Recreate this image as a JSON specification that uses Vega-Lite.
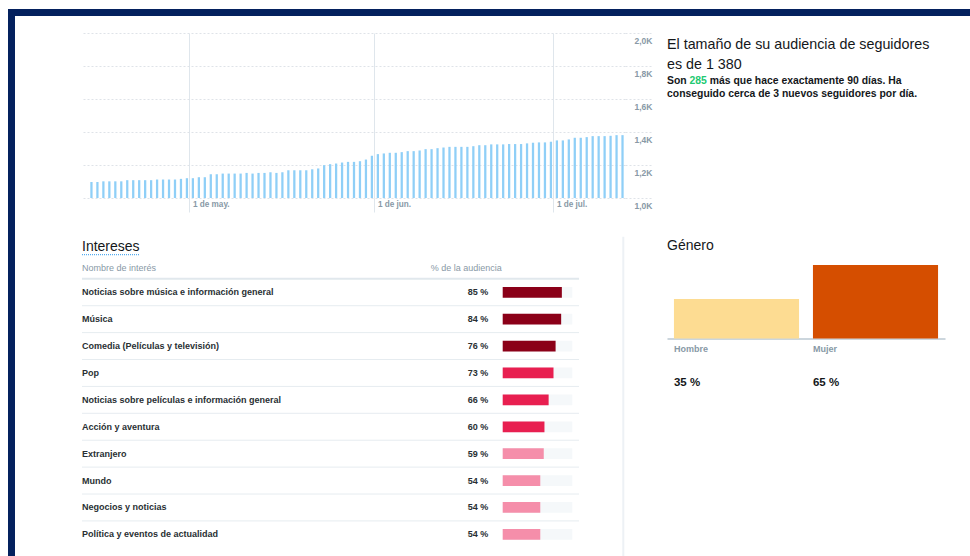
{
  "$schema": "https://vega.github.io/schema/vega-lite/v6.json",
  "background": "#ffffff",
  "padding": {"left": 8, "top": 9, "right": 0, "bottom": 0},
  "config": {
    "font": "Liberation Sans",
    "view": {"stroke": null},
    "axis": {"labelFont": "Liberation Sans"},
    "title": {"font": "Liberation Sans"},
    "text": {"font": "Liberation Sans"}
  },
  "bounds": "flush",
  "spacing": 0,
  "hconcat": [
    {
      "width": 7, "height": 547,
      "view": {"fill": "#04215e", "stroke": null},
      "data": {"values": []},
      "mark": "rect",
      "encoding": {}
    },
    {
      "bounds": "flush",
      "spacing": 17,
      "vconcat": [
        {
          "width": 955, "height": 7,
          "view": {"fill": "#04215e", "stroke": null},
          "data": {"values": []},
          "mark": "rect",
          "encoding": {}
        },
        {
          "bounds": "full",
          "spacing": 0,
          "hconcat": [
            {"width": 66, "height": 1, "data": {"values": []}, "mark": "rect", "encoding": {}},
            {
              "bounds": "flush",
              "spacing": 38.7,
              "vconcat": [
                {
                  "width": 543, "height": 165,
                  "data": {"values": [
                    {"date": "2019-04-14", "followers": 1097}, {"date": "2019-04-15", "followers": 1097},
                    {"date": "2019-04-16", "followers": 1101}, {"date": "2019-04-17", "followers": 1101},
                    {"date": "2019-04-18", "followers": 1101}, {"date": "2019-04-19", "followers": 1101},
                    {"date": "2019-04-20", "followers": 1108}, {"date": "2019-04-21", "followers": 1108},
                    {"date": "2019-04-22", "followers": 1108}, {"date": "2019-04-23", "followers": 1108},
                    {"date": "2019-04-24", "followers": 1108}, {"date": "2019-04-25", "followers": 1112},
                    {"date": "2019-04-26", "followers": 1112}, {"date": "2019-04-27", "followers": 1112},
                    {"date": "2019-04-28", "followers": 1112}, {"date": "2019-04-29", "followers": 1116},
                    {"date": "2019-04-30", "followers": 1120},
                    {"date": "2019-05-01", "followers": 1120}, {"date": "2019-05-02", "followers": 1126},
                    {"date": "2019-05-03", "followers": 1126}, {"date": "2019-05-04", "followers": 1144},
                    {"date": "2019-05-05", "followers": 1144}, {"date": "2019-05-06", "followers": 1148},
                    {"date": "2019-05-07", "followers": 1148}, {"date": "2019-05-08", "followers": 1148},
                    {"date": "2019-05-09", "followers": 1148}, {"date": "2019-05-10", "followers": 1152},
                    {"date": "2019-05-11", "followers": 1148}, {"date": "2019-05-12", "followers": 1152},
                    {"date": "2019-05-13", "followers": 1152}, {"date": "2019-05-14", "followers": 1156},
                    {"date": "2019-05-15", "followers": 1152}, {"date": "2019-05-16", "followers": 1156},
                    {"date": "2019-05-17", "followers": 1168}, {"date": "2019-05-18", "followers": 1168},
                    {"date": "2019-05-19", "followers": 1168}, {"date": "2019-05-20", "followers": 1168},
                    {"date": "2019-05-21", "followers": 1174}, {"date": "2019-05-22", "followers": 1179},
                    {"date": "2019-05-23", "followers": 1199}, {"date": "2019-05-24", "followers": 1205},
                    {"date": "2019-05-25", "followers": 1209}, {"date": "2019-05-26", "followers": 1215},
                    {"date": "2019-05-27", "followers": 1219}, {"date": "2019-05-28", "followers": 1219},
                    {"date": "2019-05-29", "followers": 1223}, {"date": "2019-05-30", "followers": 1233},
                    {"date": "2019-05-31", "followers": 1256},
                    {"date": "2019-06-01", "followers": 1266}, {"date": "2019-06-02", "followers": 1270},
                    {"date": "2019-06-03", "followers": 1274}, {"date": "2019-06-04", "followers": 1274},
                    {"date": "2019-06-05", "followers": 1278}, {"date": "2019-06-06", "followers": 1284},
                    {"date": "2019-06-07", "followers": 1284}, {"date": "2019-06-08", "followers": 1288},
                    {"date": "2019-06-09", "followers": 1296}, {"date": "2019-06-10", "followers": 1296},
                    {"date": "2019-06-11", "followers": 1302}, {"date": "2019-06-12", "followers": 1306},
                    {"date": "2019-06-13", "followers": 1310}, {"date": "2019-06-14", "followers": 1310},
                    {"date": "2019-06-15", "followers": 1310}, {"date": "2019-06-16", "followers": 1310},
                    {"date": "2019-06-17", "followers": 1314}, {"date": "2019-06-18", "followers": 1320},
                    {"date": "2019-06-19", "followers": 1320}, {"date": "2019-06-20", "followers": 1325},
                    {"date": "2019-06-21", "followers": 1325}, {"date": "2019-06-22", "followers": 1325},
                    {"date": "2019-06-23", "followers": 1327}, {"date": "2019-06-24", "followers": 1327},
                    {"date": "2019-06-25", "followers": 1327}, {"date": "2019-06-26", "followers": 1331},
                    {"date": "2019-06-27", "followers": 1335}, {"date": "2019-06-28", "followers": 1337},
                    {"date": "2019-06-29", "followers": 1337}, {"date": "2019-06-30", "followers": 1341},
                    {"date": "2019-07-01", "followers": 1349}, {"date": "2019-07-02", "followers": 1349},
                    {"date": "2019-07-03", "followers": 1355}, {"date": "2019-07-04", "followers": 1365},
                    {"date": "2019-07-05", "followers": 1365}, {"date": "2019-07-06", "followers": 1369},
                    {"date": "2019-07-07", "followers": 1375}, {"date": "2019-07-08", "followers": 1375},
                    {"date": "2019-07-09", "followers": 1375}, {"date": "2019-07-10", "followers": 1377},
                    {"date": "2019-07-11", "followers": 1381}, {"date": "2019-07-12", "followers": 1381}
                  ]},
                  "mark": {"type": "bar", "color": "#8fcff7", "width": {"band": 0.38}, "binSpacing": 0},
                  "encoding": {
                    "x": {
                      "field": "date", "type": "temporal", "timeUnit": "utcyearmonthdate",
                      "scale": {"type": "utc", "domain": [
                        {"year": 2019, "month": 4, "date": 13, "utc": true},
                        {"year": 2019, "month": 7, "date": 13, "utc": true}
                      ]},
                      "axis": {
                        "title": null,
                        "values": [
                          {"year": 2019, "month": 5, "date": 1, "utc": true},
                          {"year": 2019, "month": 6, "date": 1, "utc": true},
                          {"year": 2019, "month": 7, "date": 1, "utc": true}
                        ],
                        "labelExpr": "'1 de ' + ['ene.','feb.','mar.','abr.','may.','jun.','jul.','ago.','sep.','oct.','nov.','dic.'][utcmonth(datum.value)]",
                        "grid": true, "gridColor": "#dfe6ec", "gridWidth": 1,
                        "ticks": true, "tickColor": "#dfe6ec", "tickSize": 14,
                        "domain": false,
                        "labelAlign": "left", "labelBaseline": "top", "labelPadding": -12, "labelOffset": 3,
                        "labelFontSize": 8.2, "labelFontWeight": "bold", "labelColor": "#8899a6",
                        "labelFlush": false, "labelOverlap": false
                      }
                    },
                    "y": {
                      "field": "followers", "type": "quantitative",
                      "scale": {"domain": [1000, 2000], "nice": false, "zero": false},
                      "axis": {
                        "orient": "right", "title": null,
                        "values": [1000, 1200, 1400, 1600, 1800, 2000],
                        "labelExpr": "replace(format(datum.value / 1000, '.1f'), '.', ',') + 'K'",
                        "grid": true, "gridColor": "#dfe3e8", "gridDash": [2, 2],
                        "ticks": true, "tickColor": "#dfe3e8", "tickDash": [2, 2], "tickSize": 27,
                        "domain": false,
                        "labelAlign": "right", "labelBaseline": "top", "labelPadding": 0, "labelOffset": 3,
                        "labelFontSize": 8.5, "labelFontWeight": "bold", "labelColor": "#8899a6",
                        "labelFlush": false, "labelOverlap": false
                      }
                    },
                    "y2": {"datum": 1000}
                  }
                },
                {
                  "width": 541.3, "height": 319.3,
                  "data": {"values": [
                    {"name": "Noticias sobre música e información general", "pct": 85, "label": "85 %"},
                    {"name": "Música", "pct": 84, "label": "84 %"},
                    {"name": "Comedia (Películas y televisión)", "pct": 76, "label": "76 %"},
                    {"name": "Pop", "pct": 73, "label": "73 %"},
                    {"name": "Noticias sobre películas e información general", "pct": 66, "label": "66 %"},
                    {"name": "Acción y aventura", "pct": 60, "label": "60 %"},
                    {"name": "Extranjero", "pct": 59, "label": "59 %"},
                    {"name": "Mundo", "pct": 54, "label": "54 %"},
                    {"name": "Negocios y noticias", "pct": 54, "label": "54 %"},
                    {"name": "Política y eventos de actualidad", "pct": 54, "label": "54 %"}
                  ]},
                  "layer": [
                    {
                      "transform": [{"filter": "datum.name != 'Política y eventos de actualidad'"}],
                      "mark": {"type": "rule", "color": "#e6ecf0", "strokeWidth": 1},
                      "encoding": {
                        "y": {"field": "name", "type": "nominal", "bandPosition": 1,
                              "scale": {"type": "band", "domain": ["hdr", "Noticias sobre música e información general", "Música", "Comedia (Películas y televisión)", "Pop", "Noticias sobre películas e información general", "Acción y aventura", "Extranjero", "Mundo", "Negocios y noticias", "Política y eventos de actualidad"],
                                        "paddingInner": 0, "paddingOuter": 0.435, "align": 0.65},
                              "axis": null},
                        "x": {"datum": -604.6, "type": "quantitative",
                              "scale": {"domain": [-604.6, 173.3], "nice": false, "zero": false}, "axis": null},
                        "x2": {"datum": 109.7}
                      }
                    },
                    {
                      "data": {"values": [{}]},
                      "mark": {"type": "rule", "color": "#e1e8ed", "strokeWidth": 2},
                      "encoding": {
                        "y": {"datum": "hdr", "type": "nominal", "bandPosition": 1},
                        "x": {"datum": -604.6, "type": "quantitative"},
                        "x2": {"datum": 109.7}
                      }
                    },
                    {
                      "data": {"values": [{}]},
                      "mark": {"type": "rule", "color": "#edf1f5", "strokeWidth": 2},
                      "encoding": {
                        "x": {"datum": 173.3, "type": "quantitative"}
                      }
                    },
                    {
                      "data": {"values": [{}]},
                      "mark": {"type": "rule", "color": "#55acee", "strokeWidth": 1.2, "strokeDash": [1, 1]},
                      "encoding": {
                        "y": {"datum": "hdr", "type": "nominal", "bandPosition": 0.1},
                        "x": {"datum": -604.6, "type": "quantitative"},
                        "x2": {"datum": -521.4}
                      }
                    },
                    {
                      "data": {"values": [{"t": "Intereses"}]},
                      "mark": {"type": "text", "align": "left", "baseline": "alphabetic", "dy": -1.2, "fontSize": 14, "color": "#14171a"},
                      "encoding": {
                        "y": {"datum": "hdr", "type": "nominal", "bandPosition": 0},
                        "x": {"datum": -604.6, "type": "quantitative"},
                        "text": {"field": "t"}
                      }
                    },
                    {
                      "data": {"values": [{"t": "Nombre de interés"}]},
                      "mark": {"type": "text", "align": "left", "baseline": "middle", "fontSize": 9, "color": "#8899a6"},
                      "encoding": {
                        "y": {"datum": "hdr", "type": "nominal", "bandPosition": 0.61},
                        "x": {"datum": -604.6, "type": "quantitative"},
                        "text": {"field": "t"}
                      }
                    },
                    {
                      "data": {"values": [{"t": "% de la audiencia"}]},
                      "mark": {"type": "text", "align": "right", "baseline": "middle", "fontSize": 9, "color": "#8899a6"},
                      "encoding": {
                        "y": {"datum": "hdr", "type": "nominal", "bandPosition": 0.61},
                        "x": {"datum": -1.4, "type": "quantitative"},
                        "text": {"field": "t"}
                      }
                    },
                    {
                      "mark": {"type": "bar", "color": "#f5f8fa", "height": {"band": 0.4}},
                      "encoding": {
                        "y": {"field": "name", "type": "nominal"},
                        "x": {"datum": 100, "type": "quantitative"},
                        "x2": {"datum": 0}
                      }
                    },
                    {
                      "mark": {"type": "bar", "height": {"band": 0.4}},
                      "encoding": {
                        "y": {"field": "name", "type": "nominal"},
                        "x": {"field": "pct", "type": "quantitative"},
                        "x2": {"datum": 0},
                        "color": {"field": "pct", "type": "quantitative",
                                  "scale": {"type": "threshold", "domain": [59.5, 74.5], "range": ["#f58eaa", "#e81f50", "#8b0018"]},
                                  "legend": null}
                      }
                    },
                    {
                      "mark": {"type": "text", "align": "left", "baseline": "middle", "fontSize": 9, "fontWeight": "bold", "color": "#292f33"},
                      "encoding": {
                        "y": {"field": "name", "type": "nominal"},
                        "x": {"datum": -604.6, "type": "quantitative"},
                        "text": {"field": "name"}
                      }
                    },
                    {
                      "mark": {"type": "text", "align": "right", "baseline": "middle", "fontSize": 9, "fontWeight": "bold", "color": "#292f33"},
                      "encoding": {
                        "y": {"field": "name", "type": "nominal"},
                        "x": {"datum": -20.7, "type": "quantitative"},
                        "text": {"field": "label"}
                      }
                    }
                  ]
                }
              ]
            },
            {"width": 14, "height": 1, "data": {"values": []}, "mark": "rect", "encoding": {}},
            {
              "bounds": "flush",
              "spacing": 0,
              "vconcat": [
                {"width": 1, "height": 40.8, "data": {"values": []}, "mark": "rect", "encoding": {}},
                {
                  "width": 290, "height": 26.6,
                  "title": {
                    "text": ["El tamaño de su audiencia de seguidores", "es de 1 380"],
                    "anchor": "start", "fontSize": 14.3, "fontWeight": "normal", "lineHeight": 20,
                    "color": "#14171a", "baseline": "bottom", "offset": -12.5
                  },
                  "layer": [
                    {
                      "data": {"values": [
                        {"line": "1", "t": "Son"},
                        {"line": "2", "t": "conseguido cerca de 3 nuevos seguidores por día."}
                      ]},
                      "mark": {"type": "text", "align": "left", "baseline": "middle", "fontSize": 10.4, "fontWeight": "bold", "color": "#14171a"},
                      "encoding": {
                        "y": {"field": "line", "type": "nominal", "scale": {"domain": ["1", "2"], "paddingInner": 0, "paddingOuter": 0}, "axis": null},
                        "x": {"datum": 0, "type": "quantitative", "scale": {"domain": [0, 1]}, "axis": null},
                        "text": {"field": "t"}
                      }
                    },
                    {
                      "data": {"values": [{"line": "1", "t": "285"}]},
                      "mark": {"type": "text", "align": "left", "baseline": "middle", "fontSize": 10.4, "fontWeight": "bold", "color": "#21c971", "dx": 22.5},
                      "encoding": {
                        "y": {"field": "line", "type": "nominal"},
                        "x": {"datum": 0, "type": "quantitative"},
                        "text": {"field": "t"}
                      }
                    },
                    {
                      "data": {"values": [{"line": "1", "t": "más que hace exactamente 90 días. Ha"}]},
                      "mark": {"type": "text", "align": "left", "baseline": "middle", "fontSize": 10.4, "fontWeight": "bold", "color": "#14171a", "dx": 42.8},
                      "encoding": {
                        "y": {"field": "line", "type": "nominal"},
                        "x": {"datum": 0, "type": "quantitative"},
                        "text": {"field": "t"}
                      }
                    }
                  ]
                },
                {"width": 1, "height": 163.3, "data": {"values": []}, "mark": "rect", "encoding": {}},
                {
                  "width": 278, "height": 73.6,
                  "title": {
                    "text": "Género", "anchor": "start", "fontSize": 14, "fontWeight": "normal",
                    "color": "#14171a", "baseline": "bottom", "offset": -1.5
                  },
                  "data": {"values": [
                    {"g": "Hombre", "v": 35, "label": "35 %"},
                    {"g": "Mujer", "v": 65, "label": "65 %"}
                  ]},
                  "encoding": {
                    "x": {
                      "field": "g", "type": "nominal",
                      "scale": {"paddingInner": 0.1, "paddingOuter": 0.05},
                      "axis": {
                        "title": null, "labels": false, "ticks": false,
                        "domain": true, "domainColor": "#ccd6dd", "domainWidth": 2
                      }
                    }
                  },
                  "layer": [
                    {
                      "mark": {"type": "bar"},
                      "encoding": {
                        "y": {"field": "v", "type": "quantitative", "scale": {"domain": [0, 65], "nice": false}, "axis": null},
                        "color": {"field": "g", "type": "nominal",
                                  "scale": {"domain": ["Hombre", "Mujer"], "range": ["#fddc92", "#d54e00"]},
                                  "legend": null}
                      }
                    },
                    {
                      "mark": {"type": "text", "align": "left", "baseline": "middle", "fontSize": 9, "fontWeight": "bold", "color": "#8899a6"},
                      "encoding": {
                        "x": {"field": "g", "type": "nominal", "bandPosition": 0},
                        "y": {"datum": -9.3, "type": "quantitative"},
                        "text": {"field": "g"}
                      }
                    },
                    {
                      "mark": {"type": "text", "align": "left", "baseline": "middle", "fontSize": 11.5, "fontWeight": "bold", "color": "#14171a"},
                      "encoding": {
                        "x": {"field": "g", "type": "nominal", "bandPosition": 0},
                        "y": {"datum": -39.2, "type": "quantitative"},
                        "text": {"field": "label"}
                      }
                    }
                  ]
                }
              ]
            }
          ]
        }
      ]
    }
  ]
}
